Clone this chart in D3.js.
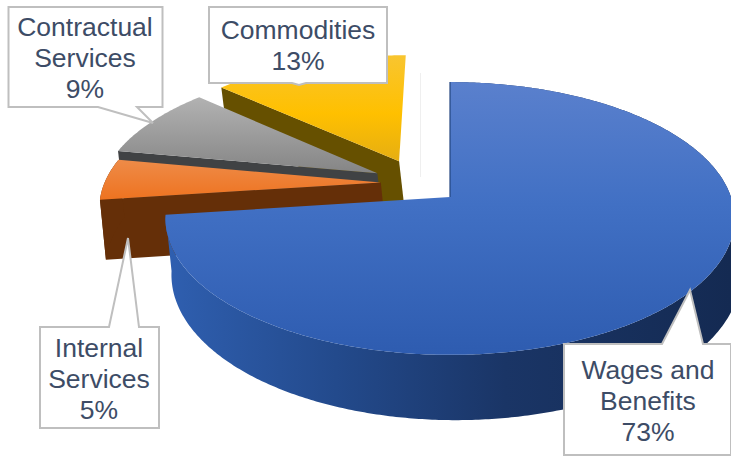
<!DOCTYPE html>
<html>
<head>
<meta charset="utf-8">
<script src="https://cdn.jsdelivr.net/npm/d3@7"></script>
<style>
  html, body { margin: 0; padding: 0; background: #fff; overflow: hidden; }
  text { font-family: "Liberation Sans", Arial, sans-serif; font-size: 26.5px; fill: #3d4c66; text-anchor: middle; }
</style>
</head>
<body>
<script>
var categories = ["Wages and Benefits", "Internal Services", "Contractual Services", "Commodities"];
var shares = [72.9, 5.0, 8.7, 13.4];
var percentLabels = ["73%", "5%", "9%", "13%"];

var width = 731, height = 456;

// perspective of the pie plane, fitted to the big slice
var cx = 450, cy = 197,
    radiusX = 281, radiusY = 133,
    persp = 0.1575,
    bottomShift = 6,
    explode = 0.163;

var sliceDepth = [55, 60, 55, 55];

// small corrections to the explosion, in plane units
var explodeNudge = [[0, 0], [0.035, 0], [0.003, 0.005], [0, 0.025]];

var topColors = [
  [[0, "#5a80cd"], [0.45, "#4170c4"], [1, "#2e5cb0"]],
  [[0, "#ee8b48"], [1, "#ee7320"]],
  [[0, "#b2b2b2"], [1, "#858585"]],
  [[0, "#f8c530"], [0.55, "#ffc000"], [1, "#e6ae12"]]
];
var wallColors = ["#2f5fb0", "#652f08", "#404244", "#665000"];

// callout boxes: x0,y0,x1,y1 then tail base x, base x, tip
var callouts = [
  {box: [564, 344, 731, 455], tail: [662, 703], tip: [690, 290], side: "top", cx: 648, base: 379},
  {box: [40, 327, 159, 428], tail: [109, 139], tip: [128, 238], side: "top", cx: 99, base: 357},
  {box: [8.5, 7, 162.5, 107], tail: [98, 137], tip: [153, 123], side: "bottom", cx: 85, base: 36},
  {box: [209, 7, 387, 83], tail: [292, 306], tip: [299, 85], side: "bottom", cx: 298, base: 39}
];
var labelLines = [
  ["Wages and", "Benefits"],
  ["Internal", "Services"],
  ["Contractual", "Services"],
  ["Commodities"]
];

var svg = d3.select("body").append("svg")
    .attr("width", width)
    .attr("height", height);
var defs = svg.append("defs");

var arcs = d3.pie().sort(null).startAngle(0).endAngle(2 * Math.PI)(shares);

function midDir(a) {
  var m = (a.startAngle + a.endAngle) / 2;
  return [Math.sin(m), Math.cos(m)];
}
var refDir = midDir(arcs[0]);

function project(X, Y, bottom, depth) {
  var w = 1 + persp * Y;
  return [cx + radiusX * X / w + (bottom ? bottomShift : 0), cy - radiusY * Y / w + (bottom ? depth / w : 0)];
}

// slice centre in the plane; every slice is exploded along its own middle angle
function centre(a) {
  var d = midDir(a), n = explodeNudge[a.index];
  return [explode * (d[0] - refDir[0]) + n[0], explode * (d[1] - refDir[1]) + n[1]];
}

function rim(a, bottom) {
  var c = centre(a), n = Math.ceil((a.endAngle - a.startAngle) / 0.01);
  return d3.range(n + 1).map(function(i) {
    var t = a.startAngle + (a.endAngle - a.startAngle) * i / n;
    return project(c[0] + Math.sin(t), c[1] + Math.cos(t), bottom, sliceDepth[a.index]);
  });
}

function apex(a, bottom) {
  var c = centre(a);
  return project(c[0], c[1], bottom, sliceDepth[a.index]);
}

var line = d3.line();

// vertical ranges for the top gradients come from the slice outline
arcs.forEach(function(a, i) {
  var pts = rim(a, false).concat([apex(a, false)]);
  var g = defs.append("linearGradient")
      .attr("id", "top" + i)
      .attr("gradientUnits", "userSpaceOnUse")
      .attr("x1", 0).attr("x2", 0)
      .attr("y1", d3.min(pts, function(p) { return p[1]; }))
      .attr("y2", d3.max(pts, function(p) { return p[1]; }));
  topColors[i].forEach(function(s) {
    g.append("stop").attr("offset", s[0]).attr("stop-color", s[1]);
  });
});

var wallGrad = defs.append("linearGradient")
    .attr("id", "wallBlue")
    .attr("gradientUnits", "userSpaceOnUse")
    .attr("x1", 167).attr("x2", 731).attr("y1", 0).attr("y2", 0);
[[0, "#2f5fb0"], [0.3, "#234a8c"], [0.6, "#1a3566"], [1, "#142a52"]].forEach(function(s) {
  wallGrad.append("stop").attr("offset", s[0]).attr("stop-color", s[1]);
});

// faint line left over in the gap
svg.append("line")
    .attr("x1", 420.5).attr("x2", 420.5).attr("y1", 73).attr("y2", 177)
    .attr("stroke", "#efefef").attr("stroke-width", 1);

// back to front: commodities, contractual, internal, wages
[3, 2, 1, 0].forEach(function(i) {
  var a = arcs[i];
  var g = svg.append("g").attr("class", "slice");

  // radial wall on the start edge
  if (i > 0) {
    var rimTop = rim(a, false), rimBot = rim(a, true);
    g.append("path")
        .attr("d", line([rimTop[0], apex(a, false), apex(a, true), rimBot[0]]) + "Z")
        .attr("fill", wallColors[i]);
  }

  // outer wall only shows on the two front slices
  if (i < 2) {
    var outer = rim(a, false).concat(rim(a, true).reverse());
    g.append("path")
        .attr("d", line(outer) + "Z")
        .attr("fill", i === 0 ? "url(#wallBlue)" : wallColors[i]);
  }

  // top face
  g.append("path")
      .attr("d", line([apex(a, false)].concat(rim(a, false))) + "Z")
      .attr("fill", "url(#top" + i + ")");

  if (i === 0) {
    g.append("path")
        .attr("d", line([rim(a, false)[0], apex(a, false)]))
        .attr("stroke", "#23457f").attr("stroke-width", 1.2).attr("fill", "none");
  }
});

// callouts
callouts.forEach(function(c, i) {
  var b = c.box, y = c.side === "top" ? b[1] : b[3];
  var pts;
  if (c.side === "top") {
    pts = [[b[0], b[1]], [c.tail[0], y], c.tip, [c.tail[1], y], [b[2], b[1]], [b[2], b[3]], [b[0], b[3]]];
  } else {
    pts = [[b[0], b[1]], [b[2], b[1]], [b[2], b[3]], [c.tail[1], y], c.tip, [c.tail[0], y], [b[0], b[3]]];
  }
  svg.append("path")
      .attr("d", line(pts) + "Z")
      .attr("fill", "#fff")
      .attr("stroke", "#bfbfbf")
      .attr("stroke-width", 2);

  var lines = labelLines[i].concat([percentLabels[i]]);
  svg.selectAll(null)
      .data(lines)
      .enter().append("text")
      .attr("x", c.cx)
      .attr("y", function(d, j) { return c.base + j * 31; })
      .text(function(d) { return d; });
});
</script>
</body>
</html>
